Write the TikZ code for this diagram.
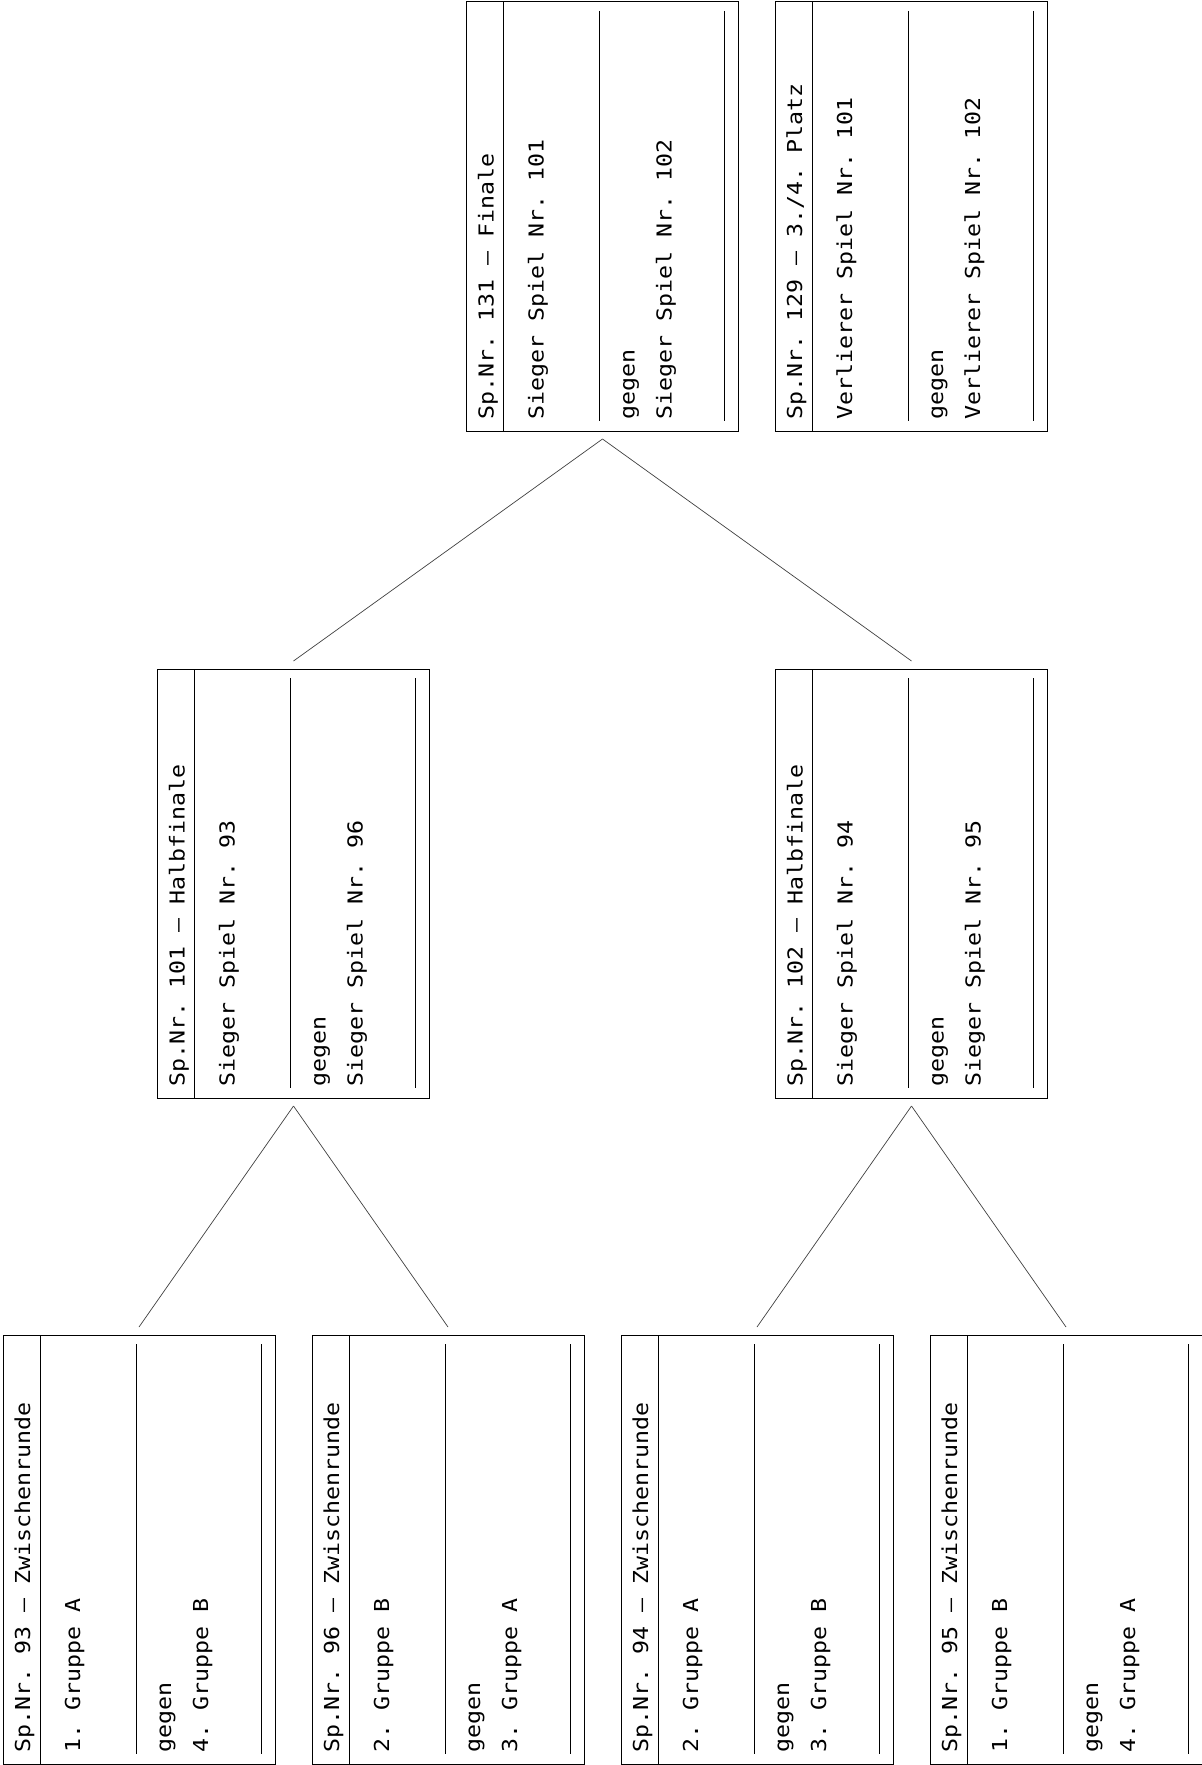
\documentclass[tikz,border=0pt]{standalone}
\usepackage{fontspec}
\newfontfamily\spielfont[FakeStretch=1.13]{DejaVu Sans Mono}
\usepackage{tikz}

\begin{document}
\begin{tikzpicture}[x=0.5pt,y=-0.5pt,
  spiel/.style={draw,line width=0.5pt,minimum width=136pt,minimum height=214.5pt,inner sep=0pt,outer xsep=0pt,outer ysep=4pt},
  zeile/.style={rotate=90,anchor=base west,inner sep=0pt,font=\spielfont\fontsize{10.3pt}{12pt}\selectfont\frenchspacing},
  strich/.style={line width=0.5pt},
  link/.style={draw=black!75,line width=0.35pt}]
\useasboundingbox (0,0) rectangle (1202,1765);
%%%SPIELE
\foreach \n/\x/\y/\k/\a/\b in {
  93/3/1335/{Sp.Nr. 93 – Zwischenrunde}/{1. Gruppe A}/{4. Gruppe B},
  96/312/1335/{Sp.Nr. 96 – Zwischenrunde}/{2. Gruppe B}/{3. Gruppe A},
  94/621/1335/{Sp.Nr. 94 – Zwischenrunde}/{2. Gruppe A}/{3. Gruppe B},
  95/930/1335/{Sp.Nr. 95 – Zwischenrunde}/{1. Gruppe B}/{4. Gruppe A},
  101/157.5/669/{Sp.Nr. 101 – Halbfinale}/{Sieger Spiel Nr. 93}/{Sieger Spiel Nr. 96},
  102/775.5/669/{Sp.Nr. 102 – Halbfinale}/{Sieger Spiel Nr. 94}/{Sieger Spiel Nr. 95},
  131/466.5/2/{Sp.Nr. 131 – Finale}/{Sieger Spiel Nr. 101}/{Sieger Spiel Nr. 102},
  129/775/2/{Sp.Nr. 129 – 3./4. Platz}/{Verlierer Spiel Nr. 101}/{Verlierer Spiel Nr. 102}}{
  \node[spiel] (s\n) at ({\x+136},{\y+214.5}) {};
  \draw[strich] ({\x+37},\y) -- ({\x+37},{\y+429});
  \draw[strich] ({\x+133},{\y+9}) -- ({\x+133},{\y+419});
  \draw[strich] ({\x+258},{\y+9}) -- ({\x+258},{\y+419});
  \node[zeile] (s\n-k) at ({\x+27},{\y+418}) {\k};
  \node[zeile] (s\n-a) at ({\x+77},{\y+418}) {\a};
  \node[zeile] (s\n-g) at ({\x+168},{\y+418}) {gegen};
  \node[zeile] (s\n-b) at ({\x+205},{\y+418}) {\b};
}
%%%VERBINDUNGEN
\draw[link] (s131.south) -- (s101.north);
\draw[link] (s131.south) -- (s102.north);
\draw[link] (s101.south) -- (s93.north);
\draw[link] (s101.south) -- (s96.north);
\draw[link] (s102.south) -- (s94.north);
\draw[link] (s102.south) -- (s95.north);
\end{tikzpicture}
\end{document}
